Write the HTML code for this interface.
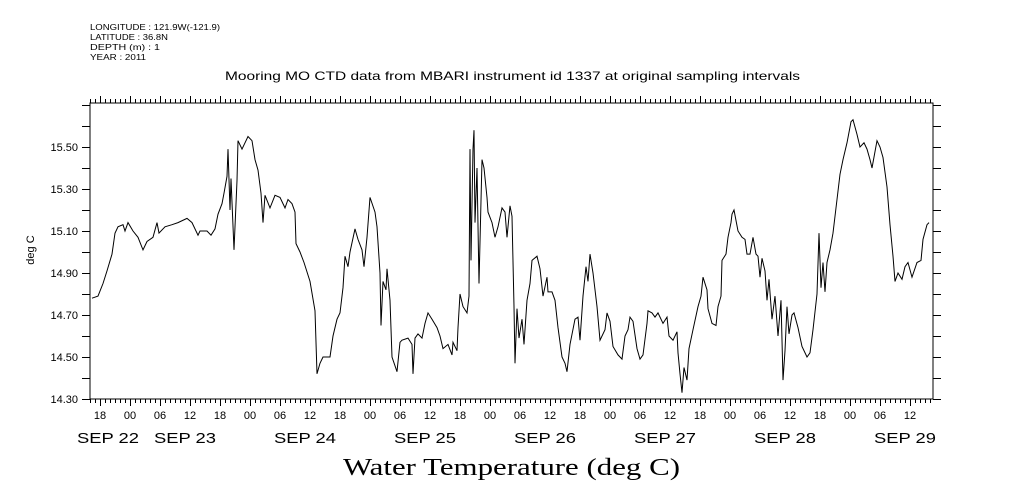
<!DOCTYPE html>
<html><head><meta charset="utf-8"><style>
body{margin:0;background:#fff;}
svg{display:block;font-family:"Liberation Sans",sans-serif;}
</style></head><body>
<svg id="chart" width="1009" height="504" viewBox="0 0 1009 504">
<rect width="1009" height="504" fill="#fff"/>
<g font-size="8" fill="#000">
<text x="90" y="30" textLength="130" lengthAdjust="spacingAndGlyphs">LONGITUDE : 121.9W(-121.9)</text>
<text x="90" y="40" textLength="78" lengthAdjust="spacingAndGlyphs">LATITUDE : 36.8N</text>
<text x="90" y="50" textLength="70" lengthAdjust="spacingAndGlyphs">DEPTH (m) : 1</text>
<text x="90" y="60" textLength="56" lengthAdjust="spacingAndGlyphs">YEAR : 2011</text>
</g>
<text x="225" y="80" font-size="12" textLength="575" lengthAdjust="spacingAndGlyphs">Mooring MO CTD data from MBARI instrument id 1337 at original sampling intervals</text>
<text x="34" y="250" font-size="11" text-anchor="middle" transform="rotate(-90 34 250)">deg C</text>
<text x="343" y="475" font-size="24" textLength="337" lengthAdjust="spacingAndGlyphs" font-family="Liberation Serif, serif">Water Temperature (deg C)</text>
<g id="axes"></g>
<path id="series" fill="none" stroke="#000" stroke-width="1"/>
</svg>
<script>
const hours=[16.4,17.6,18.6,19.4,20.4,21.0,21.6,22.6,23.0,23.6,24.6,25.6,26.6,27.4,28.6,29.4,29.8,31.0,32.4,33.6,35.4,36.4,37.6,38.0,39.4,40.2,41.0,41.6,42.4,42.8,43.4,43.6,44.0,44.2,44.8,45.4,45.6,46.4,47.0,47.6,48.4,49.0,49.6,50.2,50.6,51.0,52.0,53.0,54.0,55.0,55.6,56.4,57.0,57.2,58.0,58.8,60.0,61.0,61.4,62.0,62.6,64.0,64.6,65.4,66.0,66.6,67.0,67.6,68.0,69.0,69.6,70.4,70.8,71.4,72.0,73.0,73.4,74.0,74.2,74.6,75.2,75.4,76.0,76.4,77.4,78.0,78.4,79.6,80.4,80.6,81.0,81.6,82.4,83.0,83.6,84.4,85.4,86.0,86.6,87.6,88.4,88.6,89.4,89.6,90.0,90.6,91.4,91.8,92.0,92.2,92.6,92.8,93.0,93.4,93.8,94.4,94.8,95.4,95.6,96.4,97.0,97.6,98.4,99.0,99.4,100.0,100.4,100.8,101.0,101.4,101.8,102.4,102.8,103.4,104.0,104.4,105.4,106.0,106.6,107.4,107.6,108.4,109.0,109.6,110.4,111.0,111.4,112.0,113.0,113.6,114.0,114.6,115.2,115.6,116.0,116.6,117.4,118.0,119.0,119.4,120.0,120.6,121.6,122.4,123.0,123.6,124.0,124.6,125.4,126.0,126.6,127.4,127.6,128.4,129.0,129.6,130.6,131.4,131.8,132.6,133.4,133.6,134.0,134.4,134.8,135.4,135.8,136.6,137.6,138.2,138.6,139.4,139.6,140.4,141.2,141.6,142.2,142.4,143.2,143.6,144.2,144.4,144.8,145.6,146.4,147.0,147.4,148.0,148.6,149.2,149.6,150.0,150.4,151.0,151.4,151.8,152.4,153.0,153.6,154.2,154.6,155.0,155.4,155.8,156.4,156.8,157.6,158.4,159.4,160.0,160.6,161.4,161.8,162.2,162.6,163.0,163.4,164.0,164.6,165.4,166.0,166.6,167.4,168.2,168.6,169.4,170.0,170.8,171.4,172.0,172.4,173.4,174.0,174.6,175.4,176.0,176.6,177.0,177.6,178.4,179.0,179.6,180.4,181.4,182.2,182.6,183.4,183.8];
const temps=[14.78,14.79,14.85,14.91,14.99,15.09,15.12,15.13,15.10,15.14,15.10,15.07,15.01,15.05,15.07,15.14,15.09,15.12,15.13,15.14,15.16,15.14,15.08,15.10,15.10,15.08,15.11,15.18,15.23,15.28,15.36,15.49,15.20,15.35,15.01,15.34,15.53,15.49,15.52,15.55,15.53,15.44,15.39,15.28,15.14,15.27,15.21,15.27,15.26,15.21,15.25,15.23,15.19,15.04,15.00,14.95,14.86,14.72,14.42,14.47,14.50,14.50,14.60,14.68,14.71,14.83,14.98,14.93,15.00,15.11,15.06,15.01,14.93,15.07,15.26,15.19,15.12,14.90,14.65,14.86,14.82,14.92,14.77,14.50,14.43,14.57,14.58,14.59,14.56,14.42,14.59,14.61,14.59,14.66,14.71,14.68,14.64,14.60,14.54,14.56,14.51,14.57,14.53,14.64,14.80,14.74,14.71,14.79,15.49,14.96,15.49,15.58,15.14,15.40,14.85,15.44,15.40,15.26,15.19,15.14,15.07,15.12,15.21,15.19,15.07,15.22,15.17,14.74,14.47,14.73,14.59,14.68,14.56,14.77,14.85,14.96,14.98,14.92,14.79,14.88,14.81,14.81,14.77,14.64,14.50,14.47,14.43,14.56,14.68,14.69,14.58,14.79,14.93,14.86,14.99,14.90,14.74,14.58,14.63,14.71,14.67,14.55,14.51,14.49,14.60,14.63,14.69,14.67,14.54,14.49,14.51,14.66,14.72,14.71,14.69,14.71,14.66,14.69,14.60,14.58,14.62,14.52,14.42,14.33,14.45,14.39,14.54,14.63,14.74,14.79,14.88,14.82,14.73,14.66,14.65,14.74,14.79,14.96,14.99,15.07,15.14,15.18,15.20,15.10,15.07,15.06,14.99,14.99,15.07,14.99,14.98,14.88,14.97,14.91,14.77,14.87,14.68,14.79,14.60,14.77,14.39,14.53,14.74,14.61,14.70,14.71,14.64,14.55,14.50,14.52,14.63,14.80,15.09,14.83,14.95,14.81,14.95,15.01,15.09,15.25,15.37,15.44,15.52,15.62,15.63,15.56,15.50,15.52,15.49,15.44,15.40,15.53,15.50,15.45,15.31,15.13,14.98,14.86,14.90,14.87,14.93,14.95,14.88,14.95,14.96,15.06,15.13,15.14];
const yTickLabels=["14.30","14.50","14.70","14.90","15.10","15.30","15.50"];
const hourLabels=["18","00","06","12"];
const dayLabels=["SEP 22","SEP 23","SEP 24","SEP 25","SEP 26","SEP 27","SEP 28","SEP 29"];

const X0=90,X1=933,Y0=103,Y1=399,H0=16,V0=14.30;
const xs=h=>X0+(h-H0)*5;
const ys=v=>Y1-(v-V0)*210;
const NS="http://www.w3.org/2000/svg";
const ax=document.getElementById('axes');
function mk(t,a,p){const e=document.createElementNS(NS,t);for(const k in a)e.setAttribute(k,a[k]);(p||ax).appendChild(e);return e;}
const frame=mk('rect',{x:X0,y:Y0,width:X1-X0,height:Y1-Y0,fill:'none',stroke:'#000','stroke-width':1});


let d='';
for(let h=16;xs(h)<=X1+0.1;h++){const x=xs(h)+0.5,L=(h%6===0)?7:4;d+=`M${x} ${Y1}v${L}M${x} ${Y0}v${-L}`;}
for(let v=14.3;v<=15.75;v+=0.1){const y=Math.round(ys(v))+0.5;d+=`M${X0} ${y}h-8M${X1} ${y}h8`;}
const tk=mk('path',{d:d,stroke:'#000','stroke-width':1,fill:'none'});


yTickLabels.forEach(s=>{const t=mk('text',{x:78,y:ys(parseFloat(s))+4,'font-size':11,'text-anchor':'end'});t.textContent=s;

});
for(let h=18,i=0;xs(h)<=X1;h+=6,i++){const t=mk('text',{x:xs(h),y:419,'font-size':11,'text-anchor':'middle'});t.textContent=hourLabels[i%4];

}
dayLabels.forEach((s,i)=>{const x=i===0?xs(18)+8:xs(24*i+11);const t=mk('text',{x:x-31,y:443,'font-size':15,textLength:62,lengthAdjust:'spacingAndGlyphs'});t.textContent=s;

});
document.getElementById('series').setAttribute('d',hours.map((h,i)=>(i?'L':'M')+xs(h).toFixed(1)+' '+ys(temps[i]).toFixed(1)).join(''));
</script>
</body></html>
